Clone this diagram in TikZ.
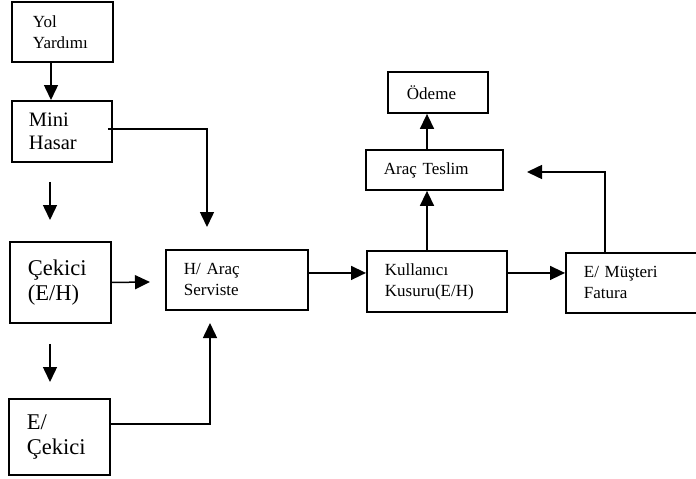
\documentclass[tikz,border=0pt]{standalone}
\usepackage{fontspec}
\setmainfont{Liberation Serif}
\usetikzlibrary{arrows.meta}
\tikzset{
  box/.style={draw, line width=1.9pt, rectangle, anchor=north west, align=left, inner ysep=0pt},
  arr/.style={line width=1.5pt, -{Triangle[length=15pt,width=14pt]}},
  fs/.style={font=\fontsize{17}{21}\selectfont},
  fm/.style={font=\fontsize{20.5}{23}\selectfont},
  fl/.style={font=\fontsize{22.5}{25}\selectfont}
}
\begin{document}
\begin{tikzpicture}[x=1pt,y=-1pt]
\useasboundingbox (0,0) rectangle (696,479);
\clip (0,0) rectangle (696,479);
\fill[white] (0,0) rectangle (696,479);
% boxes
\node[box,fs,minimum width=101pt,minimum height=60pt,inner xsep=21pt,text width=59pt] (yol) at (11,1) {Yol\\Yardımı};
\node[box,fm,minimum width=100pt,minimum height=61pt,inner xsep=17pt,text width=66pt] (mini) at (11,100) {Mini\\Hasar};
\node[box,fl,minimum width=101pt,minimum height=81pt,inner xsep=18pt,text width=65pt] (cek) at (9,241) {Çekici\\(E/H)};
\node[box,fl,minimum width=101pt,minimum height=76pt,inner xsep=18pt,text width=65pt] (ecek) at (8,398) {E/\\Çekici};
\node[box,fs,minimum width=142pt,minimum height=60pt,inner xsep=18pt,text width=106pt] (har) at (165,249) {H/ Araç\\Serviste};
\node[box,fs,minimum width=100pt,minimum height=41pt,inner xsep=19pt,text width=62pt] (odeme) at (387,71) {Ödeme};
\node[box,fs,minimum width=137pt,minimum height=40pt,inner xsep=18pt,text width=101pt] (ates) at (365,149) {Araç Teslim};
\node[box,fs,minimum width=140pt,minimum height=61pt,inner xsep=18pt,text width=104pt] (kul) at (366,250) {Kullanıcı\\Kusuru(E/H)};
\node[box,fs,minimum width=150pt,minimum height=60pt,inner xsep=18pt,text width=114pt] (emf) at (565,252) {E/ Müşteri\\Fatura};
% free ends
\coordinate (t1) at (150,282);
\coordinate (t2) at (207,227);
\coordinate (t3) at (210,323);
\coordinate (t4) at (527,172);
% connectors
\draw[arr] ([xshift=40pt]yol.south west) -- ([xshift=40pt]mini.north west);
\draw[arr] ([xshift=39pt,yshift=-19pt]mini.south west) -- ([xshift=41pt,yshift=21pt]cek.north west);
\draw[arr] ([xshift=41pt,yshift=-20pt]cek.south west) -- ([xshift=42pt,yshift=16pt]ecek.north west);
\draw[arr] (cek.east) -- (t1);
\draw[arr] ([xshift=-5pt,yshift=2.5pt]mini.east) -| (t2);
\draw[arr] ([yshift=13pt]ecek.east) -| (t3);
\draw[arr] ([yshift=7pt]har.east) -- ([yshift=8.5pt]kul.west);
\draw[arr] ([yshift=8.5pt]kul.east) -- ([yshift=10pt]emf.west);
\draw[arr] ([xshift=61pt]kul.north west) -- ([xshift=62pt]ates.south west);
\draw[arr] ([xshift=62pt]ates.north west) -- ([xshift=40pt]odeme.south west);
\draw[arr] ([xshift=40pt]emf.north west) |- (t4);
\end{tikzpicture}
\end{document}
